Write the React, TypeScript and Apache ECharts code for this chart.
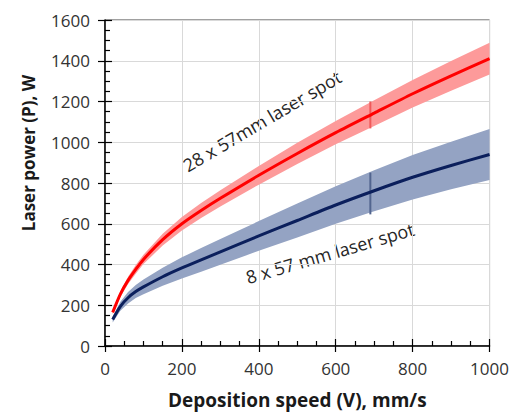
import React, { useEffect, useRef } from "react";
import * as echarts from "echarts";

// Deposition speed (mm/s) sample points
const speeds = [20, 40, 60, 80, 100, 150, 200, 250, 300, 400, 500, 600, 700, 800, 900, 1000];

// 28 x 57 mm laser spot
const redPower = [165, 255, 322, 376, 425, 522, 600, 665, 725, 838, 945, 1047, 1143, 1238, 1326, 1410];
const redLower = [156, 241, 304, 355, 402, 493, 567, 628, 685, 792, 893, 990, 1080, 1170, 1253, 1332];
const redUpper = [174, 269, 340, 397, 448, 551, 633, 702, 765, 884, 997, 1104, 1206, 1306, 1399, 1488];

// 8 x 57 mm laser spot
const navyPower = [130, 195, 237, 267, 290, 340, 383, 423, 462, 540, 616, 692, 762, 828, 886, 940];
const navyLower = [115, 173, 209, 235, 254, 296, 331, 365, 399, 467, 533, 600, 661, 719, 769, 815];
const navyUpper = [145, 217, 265, 299, 326, 384, 435, 481, 525, 613, 699, 784, 863, 937, 1003, 1065];

// error bars drawn at one speed
const errSpeed = 690;
const redErr = [1068, 1200];
const navyErr = [646, 851];

const FONT = "'Open Sans', 'Noto Sans', sans-serif";

function bandSeries(lower: number[], upper: number[], color: string) {
  return {
    type: "custom",
    coordinateSystem: "cartesian2d",
    xAxisIndex: 0,
    yAxisIndex: 0,
    silent: true,
    z: 1,
    data: [[speeds[0], lower[0]]],
    renderItem: (_params: any, api: any) => {
      const pts: number[][] = [];
      for (let i = 0; i < speeds.length; i++) pts.push(api.coord([speeds[i], upper[i]]));
      for (let i = speeds.length - 1; i >= 0; i--) pts.push(api.coord([speeds[i], lower[i]]));
      return {
        type: "polygon",
        shape: { points: pts },
        style: { fill: color },
      };
    },
  };
}

function errSeries(range: number[], color: string) {
  return {
    type: "line",
    xAxisIndex: 0,
    yAxisIndex: 0,
    data: [[errSpeed, range[0]], [errSpeed, range[1]]],
    symbol: "none",
    lineStyle: { color, width: 2 },
    z: 2,
    silent: true,
  };
}

export default function App() {
  const ref = useRef<HTMLDivElement>(null);
  useEffect(() => {
    if (!ref.current) return;
    const chart = echarts.init(ref.current, undefined, { renderer: "svg" });
    const labelStyle = { color: "#333", fontSize: 17, fontFamily: FONT, formatter: (v: number) => String(v) };
    chart.setOption({
      animation: false,
      backgroundColor: "#fff",
      grid: {
        left: 105,
        right: 20,
        top: 20,
        bottom: 67,
        show: true,
        borderColor: "#404040",
        borderWidth: 1,
      },
      xAxis: [
        {
          type: "value",
          min: 0,
          max: 1000,
          interval: 200,
          position: "bottom",
          axisLine: { show: true, lineStyle: { color: "#000", width: 1.5 } },
          axisTick: { show: true, inside: false, length: 6, lineStyle: { color: "#000", width: 1.2 } },
          axisLabel: { ...labelStyle, margin: 14 },
          splitLine: { show: true, lineStyle: { color: "#d9d9d9", width: 1 } },
          name: "Deposition speed (V), mm/s",
          nameLocation: "middle",
          nameGap: 44,
          nameTextStyle: { color: "#1a1a1a", fontSize: 19, fontWeight: "bold", fontFamily: FONT },
        },
        {
          type: "value",
          min: 0,
          max: 1000,
          interval: 200,
          position: "bottom",
          offset: 0,
          axisLine: { show: false },
          axisTick: { show: true, inside: true, length: 7, lineStyle: { color: "#000", width: 1.2 } },
          minorTick: { show: true, splitNumber: 4, length: 5, lineStyle: { color: "#000", width: 1.2 } },
          axisLabel: { show: false },
          splitLine: { show: false },
        },
      ],
      yAxis: [
        {
          type: "value",
          min: 0,
          max: 1600,
          interval: 200,
          position: "left",
          axisLine: { show: true, lineStyle: { color: "#000", width: 1.5 } },
          axisTick: { show: true, inside: false, length: 7, lineStyle: { color: "#000", width: 1.2 } },
          axisLabel: { ...labelStyle, margin: 15 },
          splitLine: { show: true, lineStyle: { color: "#d9d9d9", width: 1 } },
        },
        {
          type: "value",
          min: 0,
          max: 1600,
          interval: 200,
          position: "left",
          offset: 0,
          axisLine: { show: false },
          axisTick: { show: true, inside: true, length: 7, lineStyle: { color: "#000", width: 1.2 } },
          minorTick: { show: true, splitNumber: 4, length: 5, lineStyle: { color: "#000", width: 1.2 } },
          axisLabel: { show: false },
          splitLine: { show: false },
        },
      ],
      series: [
        bandSeries(navyLower, navyUpper, "#94a3c3"),
        bandSeries(redLower, redUpper, "#fd9a9a"),
        errSeries(navyErr, "#52658f"),
        errSeries(redErr, "#f05a5a"),
        {
          type: "line",
          name: "8 x 57 mm laser spot",
          xAxisIndex: 0,
          yAxisIndex: 0,
          data: speeds.map((s, i) => [s, navyPower[i]]),
          smooth: 0.25,
          symbol: "none",
          lineStyle: { color: "#0b1f5c", width: 3 },
          z: 3,
        },
        {
          type: "line",
          name: "28 x 57mm laser spot",
          xAxisIndex: 0,
          yAxisIndex: 0,
          data: speeds.map((s, i) => [s, redPower[i]]),
          smooth: 0.25,
          symbol: "none",
          lineStyle: { color: "#ff0000", width: 3 },
          z: 3,
        },
      ],
      graphic: [
        {
          type: "text",
          x: 28,
          y: 153,
          rotation: Math.PI / 2,
          style: {
            text: "Laser power (P), W",
            fill: "#1a1a1a",
            font: `bold 17px ${FONT}`,
            align: "center",
            verticalAlign: "middle",
          },
        },
        {
          type: "text",
          x: 262,
          y: 121,
          rotation: (30.5 * Math.PI) / 180,
          style: {
            text: "28 x 57mm laser spot",
            fill: "#262626",
            font: `18px ${FONT}`,
            align: "center",
            verticalAlign: "middle",
          },
        },
        {
          type: "text",
          x: 330,
          y: 253,
          rotation: (16.4 * Math.PI) / 180,
          style: {
            text: "8 x 57 mm laser spot",
            fill: "#262626",
            font: `18px ${FONT}`,
            align: "center",
            verticalAlign: "middle",
          },
        },
      ],
    });
    return () => chart.dispose();
  }, []);
  return (
    <div
      ref={ref}
      style={{ position: "absolute", left: 0, top: 0, width: 512, height: 414 }}
    />
  );
}
